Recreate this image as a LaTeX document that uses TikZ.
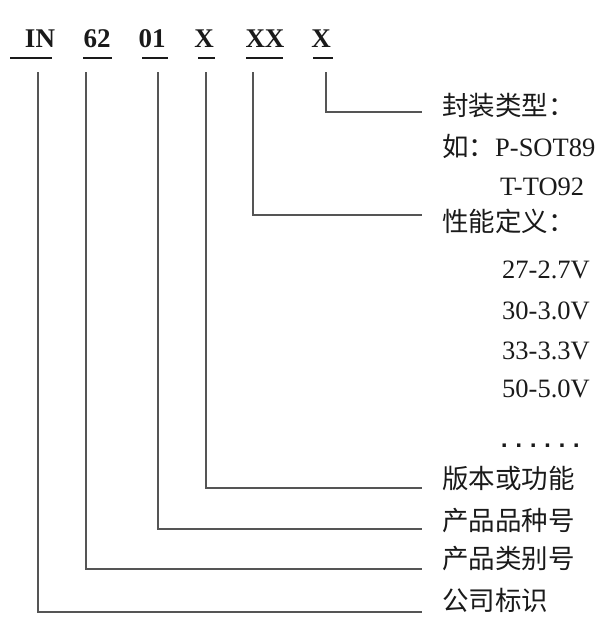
\documentclass[tikz,border=0pt]{standalone}
\usepackage{fontspec}
\setmainfont{Liberation Serif}
\newfontfamily\cjk{Noto Sans CJK SC}
\newfontfamily\monof{Liberation Mono}
\definecolor{linegray}{HTML}{555555}
\definecolor{ink}{HTML}{1A1A1A}
\begin{document}
\begin{tikzpicture}[x=1pt,y=-1pt,
  hdr/.style={inner sep=0pt, anchor=base, text=ink, font=\fontsize{27}{27}\selectfont\bfseries},
  uline/.style={draw=ink, line width=1.8pt},
  conn/.style={draw=linegray, line width=1.8pt},
  lbl/.style={inner sep=0pt, anchor=base west, text=ink, font=\fontsize{26.5}{27}\selectfont},
  cjklbl/.style={lbl, font=\fontsize{26.5}{27}\selectfont\cjk}]
\useasboundingbox[fill=white] (0,0) rectangle (612,619);

% header
\node[hdr] (h1) at (40,47) {IN};
\node[hdr] (h2) at (97,47) {62};
\node[hdr] (h3) at (152,47) {01};
\node[hdr] (h4) at (204,47) {X};
\node[hdr] (h5) at (265,47) {XX};
\node[hdr] (h6) at (321,47) {X};

\draw[uline] (10,58) -- (52,58);
\draw[uline] (83,58) -- (112,58);
\draw[uline] (142,58) -- (168,58);
\draw[uline] (198,58) -- (215,58);
\draw[uline] (246,58) -- (283,58);
\draw[uline] (313,58) -- (333,58);

% connector tops and ends
\coordinate (t1) at (38,72);
\coordinate (t2) at (86,72);
\coordinate (t3) at (158,72);
\coordinate (t4) at (206,72);
\coordinate (t5) at (253,72);
\coordinate (t6) at (326,72);
\coordinate (e1) at (422,612);
\coordinate (e2) at (422,569);
\coordinate (e3) at (422,529);
\coordinate (e4) at (422,488);
\coordinate (e5) at (422,215);
\coordinate (e6) at (422,112);

% labels
\node[cjklbl] (l6) at (442,115) {封装类型：};
\node[lbl] (l6a) at (442,156) {{\cjk 如：}P-SOT89};
\node[lbl] (l6b) at (500,195) {T-TO92};
\node[cjklbl] (l5) at (442,231) {性能定义：};
\node[lbl] (v1) at (502,278) {27-2.7V};
\node[lbl] (v2) at (502,319) {30-3.0V};
\node[lbl] (v3) at (502,359) {33-3.3V};
\node[lbl] (v4) at (502,397) {50-5.0V};
\node[lbl, font=\fontsize{24}{24}\selectfont\monof\bfseries] (v5) at (497,447) {......};
\node[cjklbl] (l4) at (442,488) {版本或功能};
\node[cjklbl] (l3) at (442,530) {产品品种号};
\node[cjklbl] (l2) at (442,568) {产品类别号};
\node[cjklbl] (l1) at (442,610) {公司标识};

% connectors
\draw[conn] (t1) |- (e1);
\draw[conn] (t2) |- (e2);
\draw[conn] (t3) |- (e3);
\draw[conn] (t4) |- (e4);
\draw[conn] (t5) |- (e5);
\draw[conn] (t6) |- (e6);
\end{tikzpicture}
\end{document}
